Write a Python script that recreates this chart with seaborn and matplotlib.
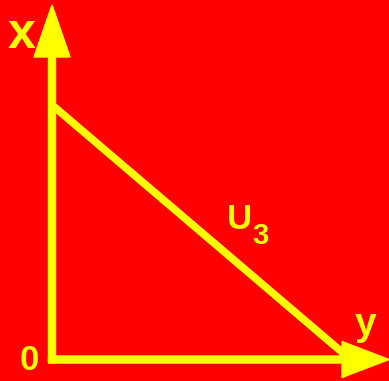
import matplotlib
matplotlib.use("Agg")
import matplotlib.pyplot as plt
import seaborn as sns

# Datos del diagrama (unidades = pixeles desde el origen)
linea_x = [0, 298]
linea_y = [254, 0]
eje_x_largo = 337
eje_y_largo = 354

amarillo = "#FFFF00"
rojo = "#FF0000"

sns.set_style("white")
plt.rcParams["font.family"] = ["Liberation Sans", "DejaVu Sans"]

fig = plt.figure(figsize=(3.89, 3.81), dpi=100, facecolor=rojo)
ax = fig.add_axes([0, 0, 1, 1])
ax.set_facecolor(rojo)
ax.set_xlim(-52, 337)
ax.set_ylim(-22, 359)
ax.axis("off")

# Recta U3
sns.lineplot(x=linea_x, y=linea_y, color=amarillo, linewidth=5.5, ax=ax)

# Ejes con flecha
ax.arrow(-3.5, -0.5, eje_x_largo + 3.5, 0, width=7, head_width=36, head_length=47,
         length_includes_head=True, color=amarillo, zorder=3)
ax.arrow(0, -4, 0, eje_y_largo + 4, width=7, head_width=36, head_length=52,
         length_includes_head=True, color=amarillo, zorder=3)

# Etiquetas
ax.text(-30, 311, "x", color=amarillo, fontsize=36, fontweight="bold", ha="center", va="baseline")
ax.text(314, 24, "y", color=amarillo, fontsize=28, fontweight="bold", ha="center", va="baseline")
ax.text(-23, -11, "0", color=amarillo, fontsize=25, fontweight="bold", ha="center", va="baseline")
ax.text(175, 130, "U", color=amarillo, fontsize=25, fontweight="bold", ha="left", va="baseline")
ax.text(200, 115, "3", color=amarillo, fontsize=21, fontweight="bold", ha="left", va="baseline")

plt.savefig("out.png", dpi=100, facecolor=rojo)
